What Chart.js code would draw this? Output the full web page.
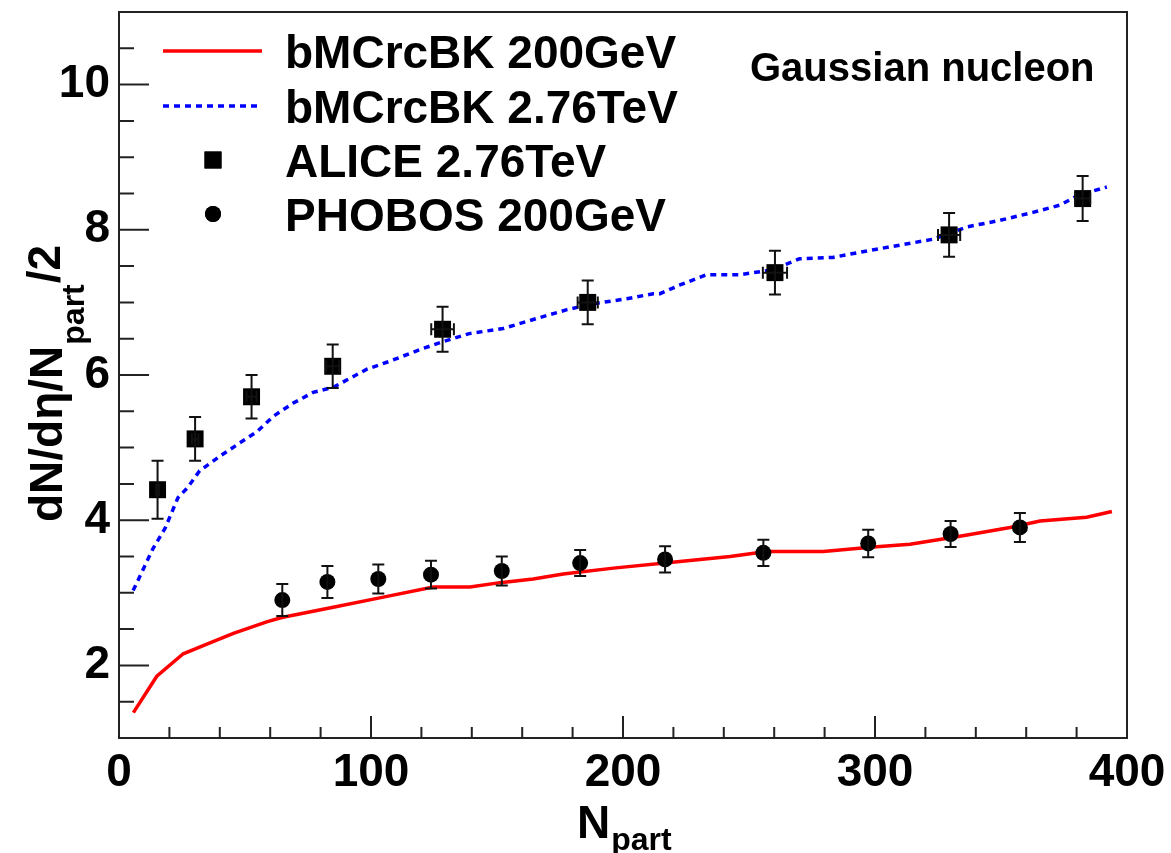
<!DOCTYPE html>
<html>
<head>
<meta charset="utf-8">
<script src="https://cdn.jsdelivr.net/npm/chart.js@4.4.0/dist/chart.umd.min.js"></script>
<style>
  html, body { margin: 0; padding: 0; background: #fff; }
  #chart { display: block; }
</style>
</head>
<body>
<canvas id="chart" width="1171" height="853"></canvas>
<script>
// bMCrcBK 200GeV (red, solid)
const redX = [5.7, 15, 25.5, 36.1, 45.4, 58.6, 64.6, 85, 104.9, 124.7, 139.3, 151.2, 164.4, 176.3, 196.2, 222.6, 242.5, 257, 279.5, 299.3, 313.9, 333.7, 353.6, 365.5, 384, 394]
const redY = [1.35, 1.85, 2.16, 2.31, 2.44, 2.60, 2.66, 2.80, 2.94, 3.08, 3.08, 3.14, 3.19, 3.26, 3.34, 3.43, 3.50, 3.57, 3.57, 3.63, 3.67, 3.78, 3.90, 3.99, 4.04, 4.12]

// bMCrcBK 2.76TeV (blue, dotted)
const blueX = [5.6, 13.5, 18.3, 23.4, 27, 32, 40, 47.3, 54.8, 61.2, 69, 77, 85, 93, 98.4, 107.5, 119.4, 128.6, 139, 152.4, 165.9, 177.8, 188, 201.5, 212, 214.7, 222.6, 233, 246, 259.5, 270, 283.3, 297, 310, 323, 336.5, 349.6, 362.7, 373.4, 381, 392]
const blueY = [3.03, 3.61, 3.89, 4.31, 4.44, 4.68, 4.88, 5.05, 5.22, 5.43, 5.61, 5.76, 5.83, 5.98, 6.08, 6.19, 6.35, 6.46, 6.57, 6.64, 6.78, 6.90, 6.98, 7.05, 7.12, 7.12, 7.24, 7.38, 7.38, 7.45, 7.60, 7.62, 7.71, 7.79, 7.87, 8.04, 8.13, 8.24, 8.34, 8.48, 8.59]

// ALICE 2.76TeV
const aliceX = [15.3, 30.2, 52.6, 84.8, 128.4, 186, 260.3, 329.4, 382.4]
const aliceY = [4.42, 5.12, 5.70, 6.12, 6.63, 7.00, 7.41, 7.93, 8.43]
const aliceYErr = [0.4, 0.3, 0.3, 0.3, 0.31, 0.3, 0.3, 0.3, 0.31]
const aliceXErr = [0.6, 1.3, 2.0, 2.6, 4.5, 4.0, 4.8, 4.4, 3.0]

// PHOBOS 200GeV
const phobosX = [64.8, 82.7, 102.9, 123.8, 151.9, 183, 216.7, 255.7, 297.3, 330, 357.5]
const phobosY = [2.90, 3.15, 3.19, 3.25, 3.30, 3.41, 3.46, 3.55, 3.68, 3.81, 3.90]
const phobosYErr = [0.22, 0.22, 0.2, 0.19, 0.2, 0.18, 0.18, 0.18, 0.19, 0.18, 0.2]

const xTicks = [0, 100, 200, 300, 400]
const yTicks = [2, 4, 6, 8, 10]

const FONT = '"Liberation Sans", Arial, Helvetica, sans-serif'
const pts = (xs, ys) => xs.map((x, i) => ({ x, y: ys[i] }))

function noPad(s) {
  s.paddingTop = 0
  s.paddingBottom = 0
  s.paddingLeft = 0
  s.paddingRight = 0
}

const rootStyle = {
  id: 'rootStyle',
  afterDatasetsDraw(chart) {
    const { ctx, scales: { x, y } } = chart
    ctx.save()
    ctx.strokeStyle = '#111'
    ctx.lineWidth = 2
    const bars = [
      [aliceX, aliceY, aliceYErr, aliceXErr],
      [phobosX, phobosY, phobosYErr, null]
    ]
    bars.forEach(([xs, ys, ye, xe]) => {
      xs.forEach((xv, i) => {
        const px = x.getPixelForValue(xv)
        const y1 = y.getPixelForValue(ys[i] + ye[i])
        const y2 = y.getPixelForValue(ys[i] - ye[i])
        ctx.beginPath()
        ctx.moveTo(px, y1); ctx.lineTo(px, y2)
        ctx.moveTo(px - 6, y1); ctx.lineTo(px + 6, y1)
        ctx.moveTo(px - 6, y2); ctx.lineTo(px + 6, y2)
        if (xe) {
          const py = y.getPixelForValue(ys[i])
          const x1 = x.getPixelForValue(xv - xe[i])
          const x2 = x.getPixelForValue(xv + xe[i])
          ctx.moveTo(x1, py); ctx.lineTo(x2, py)
          ctx.moveTo(x1, py - 6); ctx.lineTo(x1, py + 6)
          ctx.moveTo(x2, py - 6); ctx.lineTo(x2, py + 6)
        }
        ctx.stroke()
      })
    })
    ctx.restore()
  },
  afterDraw(chart) {
    const { ctx, chartArea: a, scales: { x, y } } = chart
    ctx.save()
    // frame
    ctx.strokeStyle = '#222'
    ctx.lineWidth = 2
    ctx.strokeRect(a.left, a.top, a.right - a.left, a.bottom - a.top)
    // inward ticks
    ctx.beginPath()
    x.ticks.forEach(t => {
      const px = x.getPixelForValue(t.value)
      const len = t.value % 100 === 0 ? 22 : 11
      ctx.moveTo(px, a.bottom); ctx.lineTo(px, a.bottom - len)
    })
    y.ticks.forEach(t => {
      const py = y.getPixelForValue(t.value)
      const len = t.value % 2 === 0 ? 30 : 15
      ctx.moveTo(a.left, py); ctx.lineTo(a.left + len, py)
    })
    ctx.stroke()

    // legend
    const rows = [51, 106, 160, 214]
    const ds = chart.data.datasets
    ctx.fillStyle = '#000'
    ctx.textBaseline = 'alphabetic'
    ctx.textAlign = 'left'
    ds.forEach((d, i) => {
      const ry = rows[i]
      if (d.pointRadius === 0) {
        ctx.save()
        ctx.strokeStyle = d.borderColor
        ctx.lineWidth = d.borderWidth
        ctx.setLineDash(d.borderDash || [])
        ctx.beginPath(); ctx.moveTo(163, ry); ctx.lineTo(262, ry); ctx.stroke()
        ctx.restore()
      } else {
        Chart.helpers.drawPoint(ctx, { pointStyle: d.pointStyle, radius: d.pointRadius, borderWidth: 0 }, 213, ry)
        ctx.fillStyle = '#000'
        ctx.fill()
      }
      ctx.font = 'bold 46px ' + FONT
      ctx.fillText(d.label, 285, ry + 17)
    })

    ctx.font = 'bold 40px ' + FONT
    ctx.fillText('Gaussian nucleon', 750, 81)

    // x title
    ctx.font = 'bold 46px ' + FONT
    ctx.fillText('N', 577, 838)
    const nw = ctx.measureText('N').width
    ctx.font = 'bold 32px ' + FONT
    ctx.fillText('part', 577 + nw + 1, 850)

    // y title
    ctx.translate(62, 522)
    ctx.rotate(-Math.PI / 2)
    ctx.font = 'bold 46px ' + FONT
    const t1 = 'dN/d\u03B7/N'
    ctx.fillText(t1, 0, 0)
    const w1 = ctx.measureText(t1).width
    ctx.font = 'bold 32px ' + FONT
    ctx.fillText('part', w1 + 1, 22)
    const w2 = ctx.measureText('part').width
    ctx.font = 'bold 46px ' + FONT
    ctx.fillText('/2', w1 + w2 + 2, -2)
    ctx.restore()
  }
}

new Chart(document.getElementById('chart'), {
  type: 'scatter',
  data: {
    datasets: [
      { label: 'bMCrcBK 200GeV', type: 'line', data: pts(redX, redY), borderColor: '#ff0000', borderWidth: 3.5, pointRadius: 0, tension: 0, fill: false, order: 2 },
      { label: 'bMCrcBK 2.76TeV', type: 'line', data: pts(blueX, blueY), borderColor: '#0000ff', borderWidth: 3.5, borderDash: [6, 5], pointRadius: 0, tension: 0, fill: false, order: 1 },
      { label: 'ALICE 2.76TeV', data: pts(aliceX, aliceY), pointStyle: 'rect', pointRadius: 12, backgroundColor: '#000', borderWidth: 0, order: 0 },
      { label: 'PHOBOS 200GeV', data: pts(phobosX, phobosY), pointStyle: 'circle', pointRadius: 8, backgroundColor: '#000', borderWidth: 0, order: 0 }
    ]
  },
  options: {
    responsive: false,
    animation: false,
    layout: { padding: { top: 9, right: 44, left: 0, bottom: 0 } },
    plugins: { legend: { display: false }, tooltip: { enabled: false } },
    scales: {
      x: {
        type: 'linear', min: 0, max: 400,
        grid: { display: false, drawTicks: false },
        border: { display: false },
        ticks: {
          stepSize: 20, autoSkip: false, maxRotation: 0, padding: 8, color: '#000',
          font: { family: FONT, size: 46, weight: 'bold' },
          callback: v => xTicks.includes(v) ? String(v) : ''
        },
        afterFit(s) { s.height = 115; noPad(s) }
      },
      y: {
        type: 'linear', min: 1, max: 11,
        grid: { display: false, drawTicks: false },
        border: { display: false },
        ticks: {
          stepSize: 0.5, autoSkip: false, padding: 9, color: '#000',
          font: { family: FONT, size: 46, weight: 'bold' },
          callback: v => yTicks.includes(v) ? String(v) : ''
        },
        afterFit(s) { s.width = 119; noPad(s) }
      }
    }
  },
  plugins: [rootStyle]
})
</script>
</body>
</html>
